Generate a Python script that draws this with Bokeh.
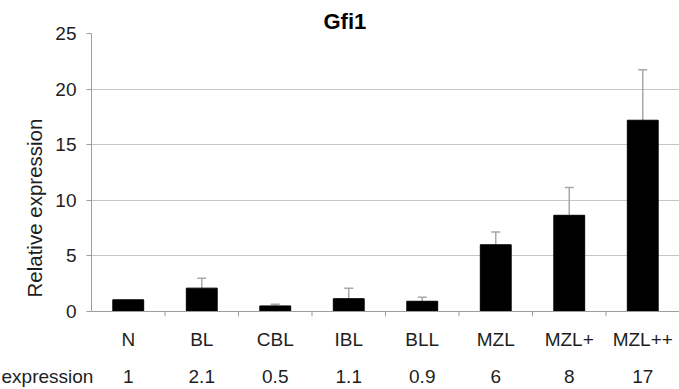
from bokeh.plotting import figure
from bokeh.models import (ColumnDataSource, Range1d, LinearAxis, FixedTicker, Whisker, TeeHead,
                          Label, Span, Title)
from bokeh.embed import file_html
from bokeh.resources import INLINE

# ---- data ----
categories = ["N", "BL", "CBL", "IBL", "BLL", "MZL", "MZL+", "MZL++"]
values = [1.05, 2.1, 0.5, 1.15, 0.92, 6.0, 8.65, 17.2]
errors = [0.0, 0.9, 0.15, 0.95, 0.35, 1.15, 2.5, 4.55]
expression_labels = ["1", "2.1", "0.5", "1.1", "0.9", "6", "8", "17"]
y_ticks = [0, 5, 10, 15, 20, 25]
grid_ticks = [5, 10, 15, 20]
title_text = "Gfi1"
y_label = "Relative expression"
row_label = "expression"

FONT = "Liberation Sans"
TXT = "#1e1e1e"
AXC = "#9c9c9c"

n = len(categories)
centers = [i + 0.5 for i in range(n)]
boundaries = list(range(1, n))
TICK = 0.45  # 5px below zero, in y units

p = figure(width=679, height=389, x_range=Range1d(0, n),
           y_range=Range1d(-TICK, 25), output_backend="svg", toolbar_location=None,
           x_axis_location=None, min_border_left=91, min_border_right=0,
           min_border_top=33, min_border_bottom=73)
p.outline_line_color = None
p.background_fill_color = "white"
p.border_fill_color = "white"
p.xgrid.visible = False
p.ygrid.ticker = FixedTicker(ticks=grid_ticks)
p.ygrid.grid_line_color = "#c6c6c6"
p.ygrid.grid_line_width = 1

# title
p.title.text = title_text
p.title.text_font = FONT
p.title.text_font_size = "22px"
p.title.text_font_style = "bold"
p.title.text_color = "black"
p.title.align = "left"
p.title.offset = 232
p.title.standoff = 0

# y axis
ya = p.yaxis[0]
ya.ticker = FixedTicker(ticks=y_ticks)
ya.bounds = (0, 25)
ya.axis_line_color = AXC
ya.major_tick_line_color = AXC
ya.major_tick_out = 5
ya.major_tick_in = 0
ya.minor_tick_line_color = None
ya.major_label_text_font = FONT
ya.major_label_text_font_size = "19px"
ya.major_label_text_color = TXT
ya.major_label_standoff = 10

# y axis title, placed like the original (centred on the whole chart height)
ytitle = Title(text=y_label, align="left", offset=19, standoff=14,
               text_font=FONT, text_font_size="20.5px", text_font_style="normal",
               text_color=TXT)
p.add_layout(ytitle, "left")

# zero line and category boundary ticks
p.add_layout(Span(location=0, dimension="width", line_color=AXC, line_width=1))
p.segment(x0=boundaries, y0=[0] * len(boundaries), x1=boundaries, y1=[-TICK] * len(boundaries),
          line_color=AXC, line_width=1)

# bottom axes: category names and expression row
cat_axis = LinearAxis(ticker=FixedTicker(ticks=centers),
                      axis_line_color=None, major_tick_line_color=None,
                      minor_tick_line_color=None, major_label_standoff=-15,
                      major_label_text_font=FONT, major_label_text_font_size="19px",
                      major_label_text_color=TXT,
                      major_label_overrides=dict(zip(centers, categories)))
expr_axis = LinearAxis(ticker=FixedTicker(ticks=centers),
                       axis_line_color=None, major_tick_line_color=None,
                       minor_tick_line_color=None, major_label_standoff=11,
                       major_label_text_font=FONT, major_label_text_font_size="19px",
                       major_label_text_color=TXT,
                       major_label_overrides=dict(zip(centers, expression_labels)))
row_lab = Label(x=-90, y=-39, x_units="screen", y_units="screen", text=row_label,
                text_font=FONT, text_font_size="19px", text_color=TXT,
                text_align="left", text_baseline="middle")
p.add_layout(row_lab, "below")
p.add_layout(cat_axis, "below")
p.add_layout(expr_axis, "below")
p.below = [row_lab, cat_axis, expr_axis]

# bars
src = ColumnDataSource(dict(x=centers, val=values))
p.vbar(x="x", top="val", width=0.42, source=src, fill_color="black", line_color="black")

# error bars (upper only)
keep = [i for i, e in enumerate(errors) if e > 0]
esrc = ColumnDataSource(dict(
    x=[centers[i] for i in keep],
    val=[values[i] for i in keep],
    upper=[values[i] + errors[i] for i in keep]))
w = Whisker(base="x", lower="val", upper="upper", dimension="height", source=esrc,
            line_color="#a8a8a8", line_width=1.5,
            upper_head=TeeHead(size=9, line_color="#a8a8a8", line_width=1.5),
            lower_head=None)
p.add_layout(w)

open("out.html", "w").write(file_html(p, INLINE))
